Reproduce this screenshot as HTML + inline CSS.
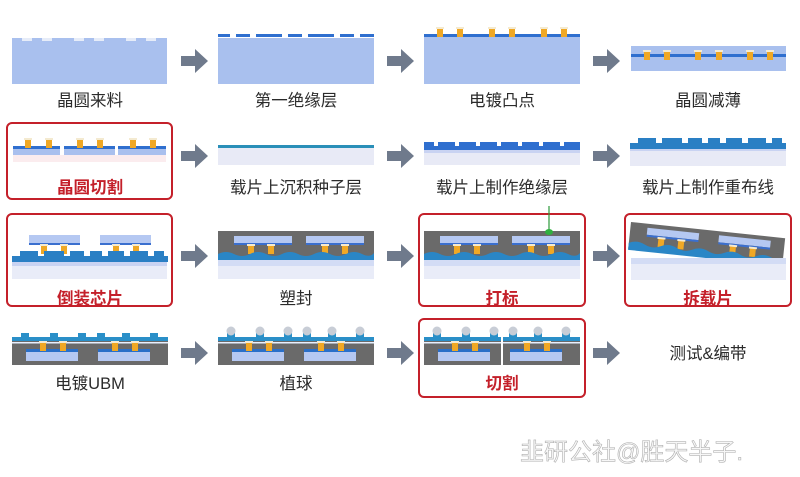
<!DOCTYPE html>
<html><head><meta charset="utf-8"><style>
html,body{margin:0;padding:0;background:#fff;}
svg{display:block}
text{font-family:"Liberation Sans","Noto Sans CJK SC",sans-serif;font-size:16.5px;fill:#2b2b2b;text-anchor:middle}
.r{fill:#c4202a;font-weight:bold}
</style></head><body>
<svg width="800" height="477" viewBox="0 0 800 477" xmlns="http://www.w3.org/2000/svg">
<defs>
 <g id="arr"><polygon points="0,-5 14,-5 14,-12 27,0 14,12 14,5 0,5" fill="#6f7a8c"/></g>
 <g id="gold"><rect x="0" y="0" width="6" height="9" fill="#f0a825"/><rect x="-1" y="-1" width="8" height="2" fill="#f4ead0"/></g>
 <g id="mold">
  <rect x="0" y="0" width="156" height="29" fill="#6a6a6a"/>
  <rect x="16" y="5" width="58" height="8" fill="#b5c8f2"/><rect x="16" y="12" width="58" height="2" fill="#3a6fcf"/>
  <rect x="88" y="5" width="58" height="8" fill="#b5c8f2"/><rect x="88" y="12" width="58" height="2" fill="#3a6fcf"/>
  <use href="#gold" x="30" y="14"/><use href="#gold" x="50" y="14"/>
  <use href="#gold" x="104" y="14"/><use href="#gold" x="124" y="14"/>
  <path d="M0,23 Q8,19 16,23 T32,23 T48,23 T64,23 T80,23 T96,23 T112,23 T128,23 T144,23 T156,22 L156,29 L0,29Z" fill="#2a86c6"/>
  <rect x="0" y="29" width="156" height="6" fill="#d3dcf5"/>
  <rect x="0" y="35" width="156" height="13" fill="#e9ecf8"/>
 </g>
 <g id="pkg">
  <rect x="0" y="6" width="156" height="28" fill="#6a6a6a"/>
  <rect x="0" y="6" width="156" height="4" fill="#2a8fc8"/>
  <rect x="0" y="11" width="156" height="1.5" fill="#e8f0ff"/>
  <g fill="#2a8fc8"><rect x="9" y="2" width="8" height="6"/><rect x="38" y="2" width="8" height="6"/><rect x="66" y="2" width="8" height="6"/><rect x="85" y="2" width="8" height="6"/><rect x="110" y="2" width="8" height="6"/><rect x="138" y="2" width="8" height="6"/></g>
  <rect x="14" y="18" width="52" height="3" fill="#2a6fc8"/><rect x="14" y="21" width="52" height="9" fill="#b5c8f2"/>
  <rect x="86" y="18" width="52" height="3" fill="#2a6fc8"/><rect x="86" y="21" width="52" height="9" fill="#b5c8f2"/>
  <use href="#gold" x="28" y="11"/><use href="#gold" x="48" y="11"/><use href="#gold" x="100" y="11"/><use href="#gold" x="120" y="11"/>
 </g>
 <g id="balls" fill="#c8cdd6"><circle cx="13" cy="3" r="4.5"/><circle cx="42" cy="3" r="4.5"/><circle cx="70" cy="3" r="4.5"/><circle cx="89" cy="3" r="4.5"/><circle cx="114" cy="3" r="4.5"/><circle cx="142" cy="3" r="4.5"/></g>
 <g id="teeth"><rect x="0" y="5" width="156" height="6" fill="#2a7fc4"/>
  <g fill="#2a7fc4"><rect x="8" y="0" width="18" height="6"/><rect x="32" y="0" width="20" height="6"/><rect x="58" y="0" width="14" height="6"/><rect x="78" y="0" width="12" height="6"/><rect x="96" y="0" width="16" height="6"/><rect x="118" y="0" width="18" height="6"/><rect x="142" y="0" width="10" height="6"/></g></g>
</defs>

<g>
<use href="#arr" x="181" y="61"/><use href="#arr" x="387" y="61"/><use href="#arr" x="593" y="61"/>
<use href="#arr" x="181" y="156"/><use href="#arr" x="387" y="156"/><use href="#arr" x="593" y="156"/>
<use href="#arr" x="181" y="256"/><use href="#arr" x="387" y="256"/><use href="#arr" x="593" y="256"/>
<use href="#arr" x="181" y="353"/><use href="#arr" x="387" y="353"/><use href="#arr" x="593" y="353"/>
</g>

<rect x="12" y="38" width="155" height="46" fill="#a9c0ee"/>
<g fill="#e6ecf8"><rect x="22" y="38" width="10" height="3"/><rect x="42" y="38" width="10" height="3"/><rect x="74" y="38" width="10" height="3"/><rect x="94" y="38" width="10" height="3"/><rect x="126" y="38" width="10" height="3"/><rect x="146" y="38" width="10" height="3"/></g>
<text x="90" y="106">晶圆来料</text>

<rect x="218" y="38" width="156" height="46" fill="#a9c0ee"/>
<rect x="218" y="34" width="156" height="3" fill="#2f6fcf"/>
<g fill="#fff"><rect x="230" y="34" width="6" height="3"/><rect x="250" y="34" width="6" height="3"/><rect x="282" y="34" width="6" height="3"/><rect x="302" y="34" width="6" height="3"/><rect x="334" y="34" width="6" height="3"/><rect x="354" y="34" width="6" height="3"/></g>
<text x="296" y="106">第一绝缘层</text>

<rect x="424" y="36" width="156" height="48" fill="#a9c0ee"/>
<rect x="424" y="34" width="156" height="3" fill="#2f6fcf"/>
<use href="#gold" x="437" y="28"/><use href="#gold" x="457" y="28"/><use href="#gold" x="489" y="28"/><use href="#gold" x="509" y="28"/><use href="#gold" x="541" y="28"/><use href="#gold" x="561" y="28"/>
<text x="502" y="106">电镀凸点</text>

<rect x="631" y="46" width="155" height="25" fill="#a9c0ee"/>
<rect x="631" y="54" width="155" height="3" fill="#2f6fcf"/>
<use href="#gold" x="644" y="51"/><use href="#gold" x="664" y="51"/><use href="#gold" x="695" y="51"/><use href="#gold" x="716" y="51"/><use href="#gold" x="747" y="51"/><use href="#gold" x="767" y="51"/>
<text x="708" y="106">晶圆减薄</text>

<rect x="7" y="123" width="165" height="76" rx="5" fill="none" stroke="#c4202a" stroke-width="2"/>
<g>
 <rect x="13" y="149" width="47" height="6" fill="#a9c0ee"/><rect x="64" y="149" width="51" height="6" fill="#a9c0ee"/><rect x="118" y="149" width="48" height="6" fill="#a9c0ee"/>
 <rect x="13" y="146" width="47" height="3" fill="#2f6fcf"/><rect x="64" y="146" width="51" height="3" fill="#2f6fcf"/><rect x="118" y="146" width="48" height="3" fill="#2f6fcf"/>
 <rect x="13" y="155" width="153" height="7" fill="#fbecee"/>
 <use href="#gold" x="25" y="139"/><use href="#gold" x="46" y="139"/><use href="#gold" x="77" y="139"/><use href="#gold" x="97" y="139"/><use href="#gold" x="130" y="139"/><use href="#gold" x="150" y="139"/>
</g>
<text class="r" x="90" y="193">晶圆切割</text>

<rect x="218" y="145" width="156" height="3" fill="#2a8fb8"/>
<rect x="218" y="148" width="156" height="17" fill="#e8eaf6"/>
<text x="296" y="193">载片上沉积种子层</text>

<rect x="424" y="142" width="156" height="8" fill="#2f6fcf"/>
<g fill="#fff"><rect x="434" y="142" width="4" height="4"/><rect x="455" y="142" width="4" height="4"/><rect x="476" y="142" width="4" height="4"/><rect x="497" y="142" width="4" height="4"/><rect x="518" y="142" width="4" height="4"/><rect x="539" y="142" width="4" height="4"/><rect x="560" y="142" width="4" height="4"/></g>
<rect x="424" y="150" width="156" height="3" fill="#c9d3f2"/>
<rect x="424" y="153" width="156" height="12" fill="#e8eaf6"/>
<text x="502" y="193">载片上制作绝缘层</text>

<use href="#teeth" x="630" y="138"/>
<rect x="630" y="149" width="156" height="2" fill="#c9d3f2"/>
<rect x="630" y="151" width="156" height="15" fill="#e8eaf6"/>
<text x="708" y="193">载片上制作重布线</text>

<rect x="7" y="214" width="165" height="92" rx="5" fill="none" stroke="#c4202a" stroke-width="2"/>
<rect x="29" y="235" width="51" height="8" fill="#b5c8f2"/><rect x="29" y="243" width="51" height="2" fill="#3a6fcf"/>
<rect x="100" y="235" width="51" height="8" fill="#b5c8f2"/><rect x="100" y="243" width="51" height="2" fill="#3a6fcf"/>
<use href="#gold" x="41" y="245"/><use href="#gold" x="61" y="245"/><use href="#gold" x="113" y="245"/><use href="#gold" x="133" y="245"/>
<use href="#teeth" x="12" y="251"/>
<rect x="12" y="262" width="155" height="4" fill="#c9d3f2"/><rect x="12" y="266" width="155" height="13" fill="#e9ecf8"/>
<text class="r" x="90" y="304">倒装芯片</text>

<use href="#mold" x="218" y="231"/>
<text x="296" y="304">塑封</text>

<rect x="419" y="214" width="166" height="92" rx="5" fill="none" stroke="#c4202a" stroke-width="2"/>
<use href="#mold" x="424" y="231"/>
<line x1="549" y1="206" x2="549" y2="231" stroke="#2a9a3a" stroke-width="1.2"/>
<ellipse cx="549" cy="232" rx="4" ry="3" fill="#30b040"/>
<text class="r" x="502" y="304">打标</text>

<rect x="625" y="214" width="166" height="92" rx="5" fill="none" stroke="#c4202a" stroke-width="2"/>
<g transform="rotate(6 631 222)">
 <rect x="631" y="222" width="155" height="27" fill="#6a6a6a"/>
 <rect x="648" y="226" width="52" height="7" fill="#b5c8f2"/><rect x="648" y="233" width="52" height="2" fill="#3a6fcf"/>
 <rect x="720" y="226" width="52" height="7" fill="#b5c8f2"/><rect x="720" y="233" width="52" height="2" fill="#3a6fcf"/>
 <use href="#gold" x="660" y="235"/><use href="#gold" x="680" y="235"/><use href="#gold" x="732" y="235"/><use href="#gold" x="752" y="235"/>
 <path d="M631,243 Q639,239 647,243 T663,243 T679,243 T695,243 T711,243 T727,243 T743,243 T759,243 T775,243 T786,242 L786,250 L631,250Z" fill="#2a86c6"/>
</g>
<rect x="631" y="258" width="155" height="6" fill="#d3dcf5"/>
<rect x="631" y="264" width="155" height="16" fill="#e9ecf8"/>
<text class="r" x="708" y="304">拆载片</text>

<use href="#pkg" x="12" y="331"/>
<text x="90" y="389">电镀UBM</text>

<use href="#pkg" x="218" y="331"/><use href="#balls" x="218" y="328"/>
<text x="296" y="389">植球</text>

<rect x="419" y="319" width="166" height="78" rx="5" fill="none" stroke="#c4202a" stroke-width="2"/>
<use href="#pkg" x="424" y="331"/><use href="#balls" x="424" y="328"/>
<rect x="501" y="328" width="2" height="38" fill="#fff"/>
<text class="r" x="502" y="389">切割</text>

<text x="708" y="359">测试&amp;编带</text>

<text x="520" y="460" style="text-anchor:start;font-size:24px;fill:#f7f7f7;stroke:#b0b0b0;stroke-width:0.6">韭研公社@胜天半子.</text>
</svg>
</body></html>
